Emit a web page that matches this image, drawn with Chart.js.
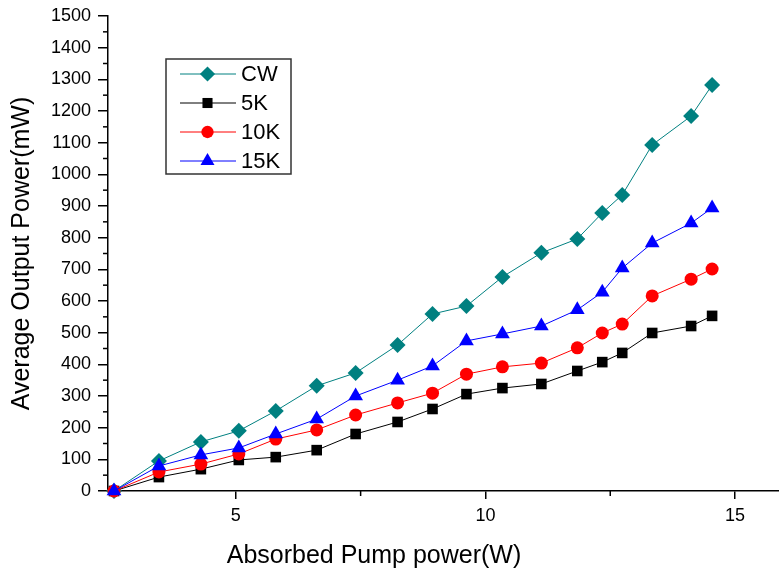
<!DOCTYPE html>
<html><head><meta charset="utf-8">
<script src="https://cdn.jsdelivr.net/npm/chart.js@4.4.1/dist/chart.umd.min.js"></script>
<style>html,body{margin:0;padding:0;background:#fff;overflow:hidden}#wrap{width:779px;height:572px;position:relative}</style>
</head><body><div id="wrap"><canvas id="c" width="779" height="572"></canvas></div>
<script>
const pumpPower = [2.56,3.46,4.30,5.06,5.80,6.62,7.40,8.24,8.94,9.62,10.34,11.12,11.84,12.34,12.74,13.34,14.12,14.54];
const cw  = [0,95,155,190,253,332,373,461,559,584,676,752,796,878,935,1093,1184,1282];
const k5  = [0,44,69,98,107,129,180,218,259,306,325,338,379,407,436,499,521,553];
const k10 = [0,60,85,117,164,193,240,278,309,369,392,404,452,499,527,616,669,701];
const k15 = [0,79,114,136,180,227,300,350,395,474,496,521,572,628,704,783,846,894];
const seriesNames = ['CW','5K','10K','15K'];
const xTicks = [5,10,15];
const xMinorTicks = [7.5,12.5];
const yTicks = [0,100,200,300,400,500,600,700,800,900,1000,1100,1200,1300,1400,1500];
const yMinorTicks = [50,150,250,350,450,550,650,750,850,950,1050,1150,1250,1350,1450];
const xTitle = 'Absorbed Pump power(W)';
const yTitle = 'Average Output Power(mW)';

const FONT = "'Liberation Sans', Arial, sans-serif";
const colors = ['#008080','#000000','#ff0000','#0000ff'];
const styles = ['rectRot','rect','circle','triangle'];
const radii = [8,7.5,6.5,8.5];
const seriesValues = [cw,k5,k10,k15];

function pts(vals){ return vals.map((v,i)=>({x:pumpPower[i], y:v})); }

const datasets = seriesNames.map((n,i)=>({
  label:n, data:pts(seriesValues[i]),
  borderColor:colors[i], backgroundColor:colors[i],
  borderWidth:1, pointStyle:styles[i], pointRadius:radii[i],
  pointBorderWidth:0, pointBackgroundColor:colors[i], pointBorderColor:colors[i],
  pointHoverRadius:radii[i], clip:false, order:3-i, tension:0
}));

function drawMarker(ctx, style, r, x, y){
  ctx.beginPath();
  if(style==='rectRot'){ ctx.moveTo(x,y-r);ctx.lineTo(x+r,y);ctx.lineTo(x,y+r);ctx.lineTo(x-r,y);ctx.closePath(); }
  else if(style==='rect'){ const s=Math.SQRT1_2*r; ctx.rect(x-s,y-s,2*s,2*s); }
  else if(style==='circle'){ ctx.arc(x,y,r,0,Math.PI*2); }
  else if(style==='triangle'){ const a=r*Math.sin(Math.PI/3); ctx.moveTo(x,y-r);ctx.lineTo(x+a,y+r/2);ctx.lineTo(x-a,y+r/2);ctx.closePath(); }
  ctx.fill();
}

const extras = {
  id:'extras',
  afterDraw(chart){
    const ctx=chart.ctx, xs=chart.scales.x, ys=chart.scales.y, ca=chart.chartArea;
    ctx.save();
    ctx.strokeStyle='#000'; ctx.lineWidth=1.5;
    xMinorTicks.forEach(v=>{const p=xs.getPixelForValue(v); ctx.beginPath(); ctx.moveTo(p,ca.bottom); ctx.lineTo(p,ca.bottom+5); ctx.stroke();});
    yMinorTicks.forEach(v=>{const p=ys.getPixelForValue(v); ctx.beginPath(); ctx.moveTo(ca.left,p); ctx.lineTo(ca.left-5,p); ctx.stroke();});
    // legend
    ctx.strokeStyle='#333'; ctx.lineWidth=1.5;
    ctx.strokeRect(166,59,125,115);
    const rows=[74,103,132,161];
    ctx.font='22px '+FONT; ctx.textBaseline='middle'; ctx.textAlign='left';
    seriesNames.forEach((n,i)=>{
      const y=rows[i];
      ctx.strokeStyle=colors[i]; ctx.lineWidth=1;
      ctx.beginPath(); ctx.moveTo(180,y); ctx.lineTo(236,y); ctx.stroke();
      ctx.fillStyle=colors[i];
      drawMarker(ctx, styles[i], radii[i]*0.95, 207.5, y);
      ctx.fillStyle='#000';
      ctx.fillText(n, 241, y+1);
    });
    // x title
    ctx.font='25px '+FONT; ctx.textAlign='center'; ctx.fillStyle='#000';
    ctx.fillText(xTitle, 374, 556);
    ctx.restore();
  }
};

new Chart(document.getElementById('c'), {
  type:'line',
  data:{datasets},
  options:{
    responsive:false, animation:false, devicePixelRatio:1,
    layout:{autoPadding:false, padding:{top:16,right:0,left:0,bottom:0}},
    plugins:{legend:{display:false}, tooltip:{enabled:false}},
    scales:{
      x:{type:'linear', min:2.44, max:15.88,
        afterBuildTicks(s){ s.ticks = xTicks.map(v=>({value:v})); },
        afterFit(s){ s.height = 81; s.paddingLeft = 0; s.paddingRight = 0; },
        grid:{drawOnChartArea:false, drawTicks:true, tickLength:8, color:'#000', lineWidth:1.5},
        border:{display:true, color:'#000', width:1.5},
        ticks:{color:'#000', font:{family:FONT, size:18}, padding:6, maxRotation:0, callback:v=>String(v)}
      },
      y:{type:'linear', min:0, max:1500,
        afterBuildTicks(s){ s.ticks = yTicks.map(v=>({value:v})); },
        afterFit(s){ s.width = 108; s.paddingTop = 0; s.paddingBottom = 0; },
        grid:{drawOnChartArea:false, drawTicks:true, tickLength:10, color:'#000', lineWidth:1.5},
        border:{display:true, color:'#000', width:1.5},
        ticks:{color:'#000', font:{family:FONT, size:18}, padding:7, callback:v=>String(v)},
        title:{display:true, text:yTitle, color:'#000', font:{family:FONT, size:25}, padding:{top:7,bottom:0}}
      }
    }
  },
  plugins:[extras]
});
</script></body></html>
